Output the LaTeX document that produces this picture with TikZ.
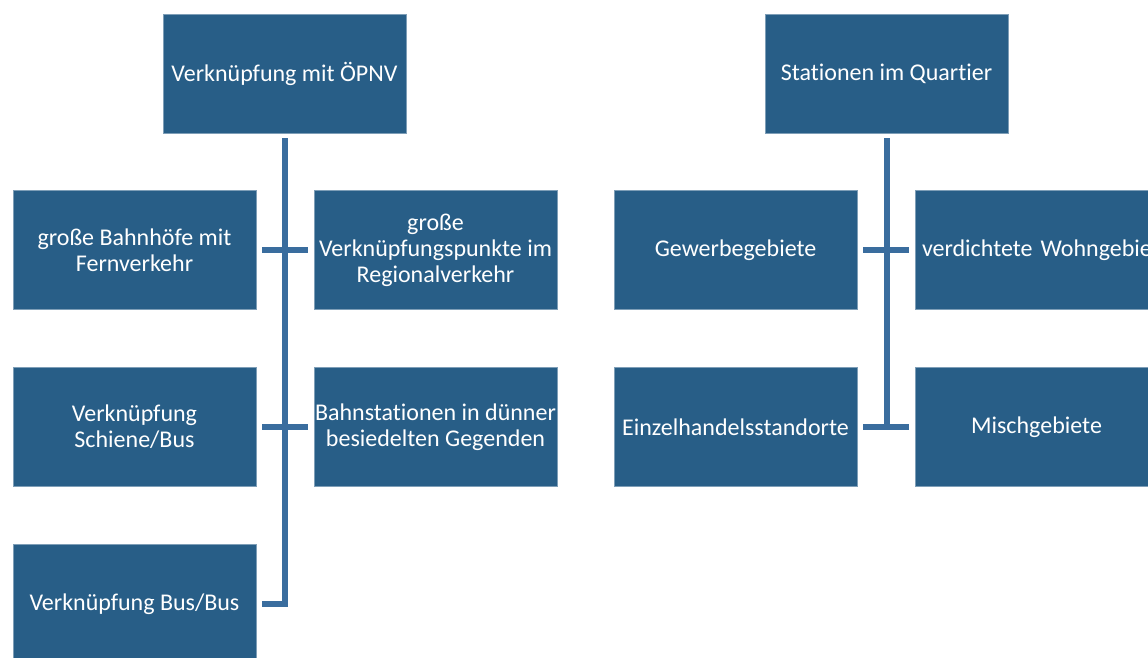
\documentclass[tikz,border=0pt]{standalone}
\usepackage{fontspec}
\setmainfont{Carlito}[Ligatures={NoCommon}]
\usetikzlibrary{positioning}

\definecolor{boxblue}{HTML}{285E87}
\definecolor{lineblue}{HTML}{3A6D9E}

\begin{document}
\begin{tikzpicture}[%
					x=1pt, y=-1pt,
					every node/.style={%
						align=center,
						rectangle,
						fill=boxblue,
						draw=boxblue!60!white,
						line width=0.6pt,
						text=white,
						inner sep=0pt,
						minimum width=243pt,
						minimum height=119pt,
						font=\fontsize{24}{26}\selectfont
					},
					link/.style={%
						draw=lineblue,
						line width=6pt
					}
				]
				\useasboundingbox (0, 0) rectangle (1148, 657);

				% first chart
				\node (oepnv) at (284.5, 73.5) {Verknüpfung mit ÖPNV};
				\node (fern) at (134.5, 250) {große Bahnhöfe mit\\Fernverkehr};
				\node (regio) at (435.5, 250) {große\\Verknüpfungspunkte im\\Regionalverkehr};
				\node (schiene) at (134.5, 427) {Verknüpfung\\Schiene/Bus};
				\node (duenn) at (435.5, 427) {Bahnstationen in dünner\\besiedelten Gegenden};
				\node (busbus) at (134.5, 604) {Verknüpfung Bus/Bus};

				\draw[link] ([xshift=6pt]busbus.east) -| ([yshift=-5pt]oepnv.south);
				\draw[link] ([xshift=6pt]fern.east) -- ([xshift=-6pt]regio.west);
				\draw[link] ([xshift=6pt]schiene.east) -- ([xshift=-6pt]duenn.west);

				% second chart
				\node (quartier) at (886.5, 73.5) {Stationen im Quartier};
				\node (gewerbe) at (735.5, 250) {Gewerbegebiete};
				\node (wohnen) [align=left, text width=229pt] at (1036.5, 250) {\mbox{verdichtete Wohngebiete}};
				\node (handel) at (735.5, 427) {Einzelhandelsstandorte};
				\node (misch) at (1036.5, 427) {Mischgebiete};

				\draw[link] ([yshift=-5pt]quartier.south) -- (quartier.south |- handel.east);
				\draw[link] ([xshift=6pt]gewerbe.east) -- ([xshift=-6pt]wohnen.west);
				\draw[link] ([xshift=6pt]handel.east) -- ([xshift=-6pt]misch.west);
			\end{tikzpicture}
\end{document}
